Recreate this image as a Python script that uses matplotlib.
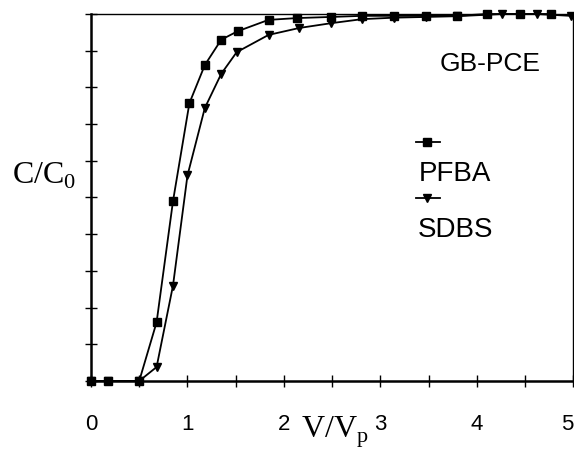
import matplotlib
matplotlib.use("Agg")
from matplotlib import pyplot as plt
from matplotlib.lines import Line2D
import numpy as np

# values
pfba_x = [0, 0.18, 0.5, 0.68, 0.85, 1.02, 1.18, 1.35, 1.52, 1.84, 2.14, 2.49,
          2.81, 3.14, 3.47, 3.79, 4.1, 4.45, 4.77]
pfba_y = [0, 0, 0, 0.16, 0.49, 0.757, 0.861, 0.93, 0.953, 0.984, 0.989, 0.992,
          0.995, 0.995, 0.995, 0.995, 1.0, 1.0, 1.0]
sdbs_x = [0, 0.18, 0.5, 0.68, 0.85, 1.0, 1.18, 1.35, 1.51, 1.84, 2.16, 2.49,
          2.81, 3.14, 3.47, 3.79, 4.26, 4.62, 4.97]
sdbs_y = [0, 0, 0, 0.038, 0.26, 0.56, 0.744, 0.837, 0.896, 0.943, 0.962, 0.975,
          0.986, 0.99, 0.992, 0.994, 1.0, 1.0, 0.995]
xtick_labels = ["0", "1", "2", "3", "4", "5"]

plt.rcParams["mathtext.fontset"] = "custom"
plt.rcParams["mathtext.rm"] = "Liberation Serif"

fig = plt.figure(figsize=(5.74, 4.52), dpi=100)
ax = fig.add_axes([0.1585, 0.1549, 0.999 - 0.1585, 0.9668 - 0.1549])

ax.plot(pfba_x, pfba_y, color="black", lw=1.3, marker="s", ms=5.5, clip_on=False)
ax.plot(sdbs_x, sdbs_y, color="black", lw=1.3, marker="v", ms=6, clip_on=False)

ax.set_xlim(0, 5)
ax.set_ylim(0, 1)
ax.set_xticks(np.arange(0, 5.01, 0.5))
ax.set_xticklabels([xtick_labels[j // 2] if j % 2 == 0 else "" for j in range(11)])
ax.set_yticks(np.arange(0, 1.01, 0.1))
ax.set_yticklabels([])
ax.tick_params(direction="inout", length=8, width=1.0, pad=19)
for lab in ax.get_xticklabels():
    lab.set_fontfamily("Liberation Sans")
    lab.set_fontsize(16)
# keep the last label inside the figure
ax.get_xticklabels()[-1].set_horizontalalignment("right")
for s in ["left", "bottom"]:
    ax.spines[s].set_linewidth(1.8)
ax.spines["top"].set_linewidth(1.0)
ax.spines["right"].set_linewidth(1.0)

ax.text(0.828, 0.866, "GB-PCE", transform=ax.transAxes, ha="center", va="center",
        fontfamily="Liberation Sans", fontsize=19)
ax.text(0.754, 0.567, "PFBA", transform=ax.transAxes, ha="center", va="center",
        fontfamily="Liberation Sans", fontsize=20)
ax.text(0.756, 0.414, "SDBS", transform=ax.transAxes, ha="center", va="center",
        fontfamily="Liberation Sans", fontsize=20)
# legend keys: short line with the marker on it
for yk, mk in [(0.651, "s"), (0.499, "v")]:
    ax.add_line(Line2D([0.674, 0.697, 0.724], [yk, yk, yk], transform=ax.transAxes,
                       color="black", lw=1.3, marker=mk, ms=5.5, markevery=[1]))

fig.text(0.077, 0.61, "C/C$_\\mathrm{0}$", ha="center", va="center",
         fontfamily="Liberation Serif", fontsize=23)
fig.text(0.583, 0.005, "V/V$_\\mathrm{p}$", ha="center", va="bottom",
         fontfamily="Liberation Serif", fontsize=23)

fig.savefig("out.png", dpi=100)
